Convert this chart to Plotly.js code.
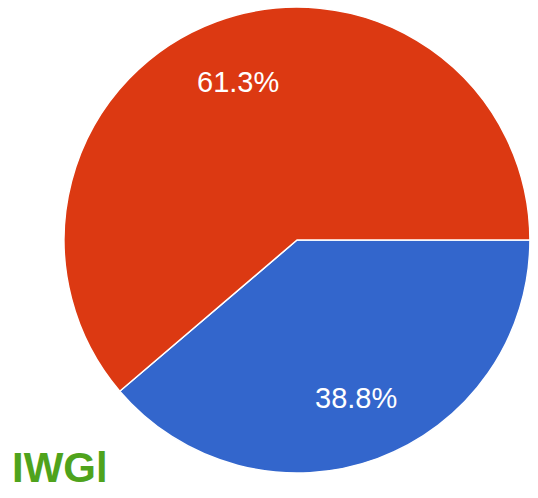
<!DOCTYPE html>
<html>
<head>
<meta charset="utf-8">
<script src="https://cdn.plot.ly/plotly-3.0.1.min.js"></script>
<style>html,body{margin:0;padding:0;background:#fff;}#chart{width:538px;height:498px;}</style>
</head>
<body>
<div id="chart"></div>
<script>
const labels = ["Blue", "Red"];
const values = [38.8, 61.3];
const percentLabels = ["38.8%", "61.3%"];
const colors = ["#3366CC", "#DC3912"];
const labelPos = [[0.6617, 0.2008], [0.4424, 0.8353]];

const trace = {
  type: "pie",
  labels: labels,
  values: values,
  sort: false,
  direction: "clockwise",
  rotation: 90,
  textinfo: "none",
  hoverinfo: "none",
  marker: { colors: colors, line: { color: "#ffffff", width: 1.5 } },
  domain: { x: [0.119, 0.985], y: [0.050, 0.986] },
  showlegend: false
};

const annotations = percentLabels.map((t, i) => ({
  text: t, x: labelPos[i][0], y: labelPos[i][1], xref: "paper", yref: "paper",
  xanchor: "center", yanchor: "middle",
  showarrow: false, font: { family: "Liberation Sans, Arial, sans-serif", size: 29, color: "#ffffff" }
}));
annotations.push({
  text: "<b>IWGl</b>", x: 0.112, y: 0.062, xref: "paper", yref: "paper",
  xanchor: "center", yanchor: "middle",
  showarrow: false, font: { family: "Liberation Sans Narrow, Liberation Sans, sans-serif", size: 42, color: "#4fa31c" }
});

Plotly.newPlot("chart", [trace], {
  width: 538, height: 498,
  margin: { l: 0, r: 0, t: 0, b: 0 },
  paper_bgcolor: "#ffffff",
  annotations: annotations
}, { displayModeBar: false, staticPlot: true });
</script>
</body>
</html>
